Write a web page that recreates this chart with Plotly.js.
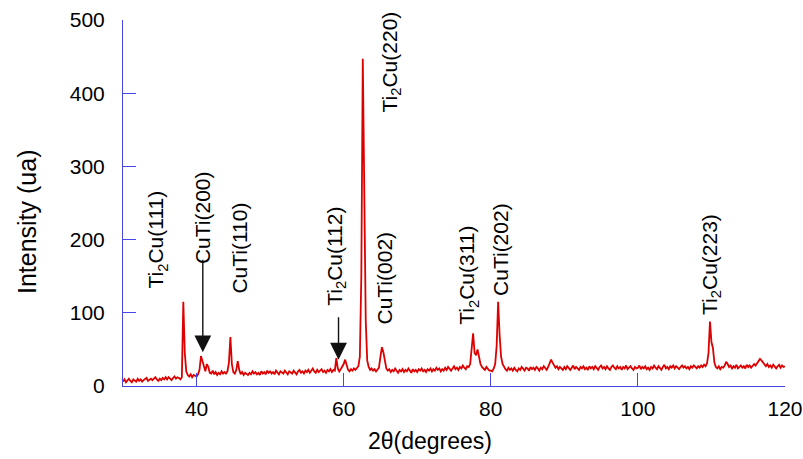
<!DOCTYPE html>
<html>
<head>
<meta charset="utf-8">
<script src="https://cdn.plot.ly/plotly-3.0.1.min.js"></script>
<style>html,body{margin:0;padding:0;background:#fff}#chart{width:803px;height:459px}</style>
</head>
<body>
<div id="chart"></div>
<script>
// 2θ sampling: start angle and step (degrees)
const startAngle = 30;
const stepAngle = 0.2;

const intensity = [
  6,9,5,8,10,   7,5,9,8,6,   10,7,9,6,8,   9,11,7,8,10,   8,10,12,9,7,
  10,8,11,9,12,   9,12,10,8,11,   13,10,12,11,9,
  12,115,45,20,15,   13,16,12,15,14,
  13,16,22,41,34,   24,20,30,26,18,   17,21,16,19,15,   18,16,20,17,19,
  17,20,32,67,30,   19,17,22,34,22,
  16,19,15,18,17,   15,18,16,20,17,   19,16,18,15,20,   17,19,16,21,18,
  20,17,19,16,21,   18,16,20,18,17,   21,18,16,20,19,   17,21,19,16,20,
  22,18,20,17,21,   19,22,18,21,24,   20,18,22,19,21,   23,19,21,18,22,
  20,23,19,22,21,
  38,24,20,23,26,   30,36,28,22,20,   23,21,24,22,25,
  27,40,150,447,290,   90,35,26,22,24,   21,23,20,22,25,
  40,53,46,32,24,   21,23,19,22,20,   24,21,18,22,20,   23,19,22,20,24,
  21,18,23,20,22,   19,23,21,24,20,   22,19,23,21,24,   20,23,21,25,22,
  24,20,23,21,25,   22,26,23,21,24,   27,23,25,22,26,   24,28,25,23,27,
  26,30,48,72,45,   42,50,38,30,26,   24,22,26,23,21,
  21,20,24,30,55,   115,70,40,30,26,
  23,21,25,22,24,   21,25,22,20,24,   22,26,23,21,25,   24,21,26,23,25,
  22,26,24,21,25,   23,27,24,22,26,
  31,36,32,28,25,   27,23,26,24,22,
  26,23,27,24,22,   25,28,23,26,24,   22,26,24,27,23,   25,22,27,24,26,
  23,27,25,22,26,   28,24,26,23,27,   24,22,26,28,25,   23,27,24,26,22,
  26,24,28,23,25,   27,24,22,26,24,
  25,28,23,26,24,   27,23,25,22,26,   24,28,25,23,27,   25,22,26,29,24,
  26,23,27,25,28,   24,27,25,23,26,   28,25,27,24,26,   23,27,25,28,26,
  24,27,25,28,26,
  29,27,31,45,88,   60,52,32,26,24,   27,23,26,25,28,
  33,30,26,28,24,   27,25,29,24,26,   28,25,27,24,29,   26,28,25,27,30,
  28,31,33,37,35,   32,29,27,30,26,   28,25,29,27,24,   27,29,25,28,26,
  27
];

// Peak labels
const peakLabels = ["Ti<sub>2</sub>Cu(111)", "CuTi(200)", "CuTi(110)", "Ti<sub>2</sub>Cu(112)",
  "Ti<sub>2</sub>Cu(220)", "CuTi(002)", "Ti<sub>2</sub>Cu(311)", "CuTi(202)", "Ti<sub>2</sub>Cu(223)"];
const labelX = [34.6, 40.8, 45.9, 59.0, 66.4, 65.6, 76.9, 81.4, 110.0];
const labelY = [200, 230, 189, 177, 443, 148, 152, 186, 166];

// Arrows marking weak peaks
const arrowX = [40.85, 59.3];
const arrowY = [46, 36];
const arrowLen = [94, 44];

const xTicks = [40, 60, 80, 100, 120];
const yTicks = [0, 100, 200, 300, 400, 500];

const xTitle = "2θ(degrees)";
const yTitle = "Intensity (ua)";

const font = "Liberation Sans, Arial, sans-serif";
const axisBlue = "rgb(70,70,235)";

const annotations = peakLabels.map((t, i) => ({
  x: labelX[i], y: labelY[i], xref: "x", yref: "y", text: t,
  textangle: -90, showarrow: false, xanchor: "center", yanchor: "middle",
  font: {family: font, size: 21, color: "#000"}
})).concat(arrowX.map((ax, i) => ({
  x: ax, y: arrowY[i], xref: "x", yref: "y", text: "",
  showarrow: true, ax: 0, ay: -arrowLen[i], arrowhead: 2, arrowsize: 2.4,
  arrowwidth: 1.4, arrowcolor: "#111"
}))).concat([
  {x: 0.4637, y: -0.150, xref: "paper", yref: "paper", text: xTitle, showarrow: false,
   xanchor: "center", yanchor: "middle", font: {family: font, size: 23, color: "#000"}},
  {x: -0.145, y: 0.448, xref: "paper", yref: "paper", text: yTitle, showarrow: false,
   textangle: -90, xanchor: "center", yanchor: "middle", font: {family: font, size: 25, color: "#000"}}
]);

const trace = {
  type: "scatter", mode: "lines",
  x0: startAngle, dx: stepAngle, y: intensity,
  line: {color: "#dd0000", width: 1.8},
  hoverinfo: "skip"
};

const layout = {
  width: 803, height: 459,
  margin: {l: 123, r: 18, t: 20, b: 73},
  paper_bgcolor: "#fff", plot_bgcolor: "#fff",
  showlegend: false,
  font: {family: font, size: 21, color: "#000"},
  xaxis: {
    range: [30, 120], tickvals: xTicks, ticktext: xTicks.map(String),
    ticks: "inside", ticklen: 13, tickcolor: axisBlue, tickwidth: 1,
    showline: true, linecolor: axisBlue, linewidth: 1, mirror: false,
    showgrid: false, zeroline: false, ticklabelstandoff: 4,
    tickfont: {family: font, size: 21, color: "#000"}
  },
  yaxis: {
    range: [0, 500], tickvals: yTicks, ticktext: yTicks.map(String),
    ticks: "inside", ticklen: 13, tickcolor: axisBlue, tickwidth: 1,
    showline: true, linecolor: axisBlue, linewidth: 1, mirror: false,
    showgrid: false, zeroline: false, ticklabelstandoff: 13,
    tickfont: {family: font, size: 21, color: "#000"}
  },
  annotations: annotations
};

Plotly.newPlot("chart", [trace], layout, {displayModeBar: false, staticPlot: true});
</script>
</body>
</html>
